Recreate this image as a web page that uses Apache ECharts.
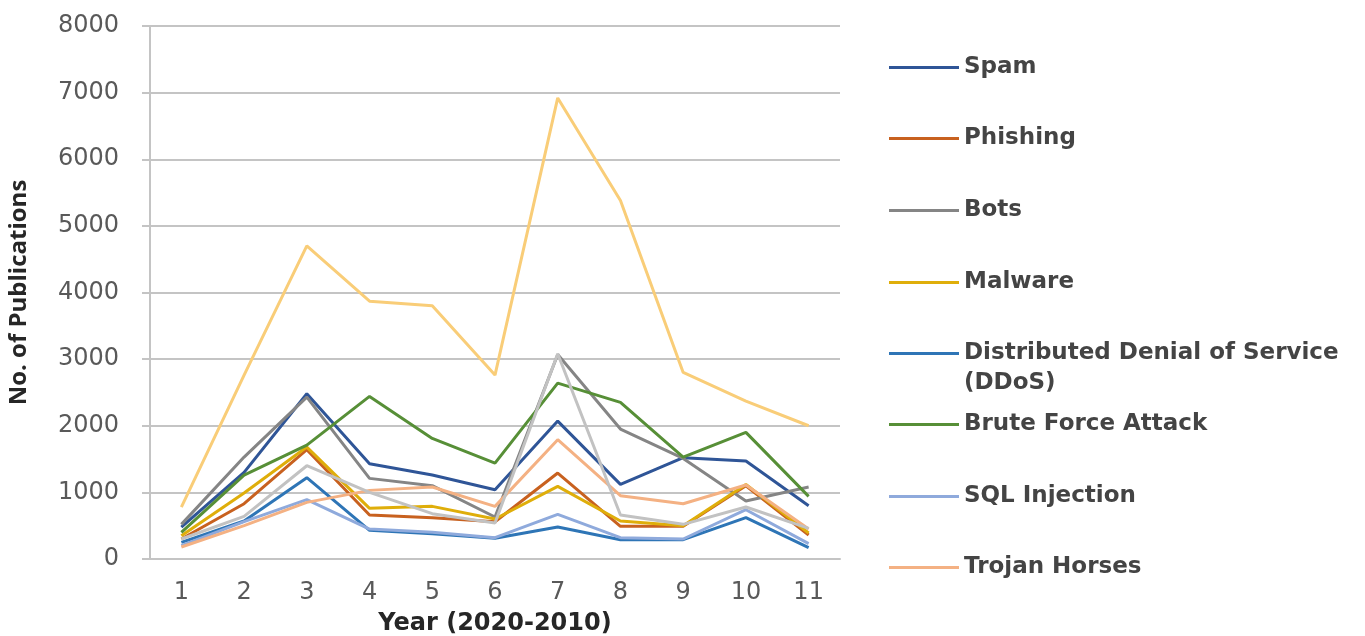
<!DOCTYPE html>
<html>
<head>
<meta charset="utf-8">
<script src="https://cdn.jsdelivr.net/npm/echarts@6/dist/echarts.min.js"></script>
<style>
  html, body { margin: 0; padding: 0; background: #ffffff; }
  #chart { width: 1365px; height: 636px; }
</style>
</head>
<body>
<div id="chart"></div>
<script>
// Publications per attack type, year index 1..11
const years = ['1', '2', '3', '4', '5', '6', '7', '8', '9', '10', '11'];
const yTicks = [0, 1000, 2000, 3000, 4000, 5000, 6000, 7000, 8000];

const spam     = [480, 1300, 2480, 1430, 1260, 1040, 2070, 1120, 1520, 1470, 800];
const phishing = [300, 830, 1640, 660, 620, 560, 1290, 490, 490, 1100, 360];
const bots     = [520, 1530, 2430, 1210, 1100, 630, 3070, 1950, 1510, 870, 1080];
const malware  = [350, 990, 1680, 760, 790, 600, 1090, 570, 500, 1120, 390];
const ddos     = [250, 570, 1220, 430, 380, 310, 480, 290, 290, 620, 170];
const brute    = [400, 1260, 1710, 2440, 1810, 1440, 2640, 2350, 1530, 1900, 940];
const sqlInj   = [200, 560, 890, 450, 400, 320, 670, 320, 300, 740, 230];
const trojan   = [180, 500, 850, 1030, 1080, 790, 1790, 950, 830, 1110, 450];
const series9  = [300, 640, 1400, 1000, 680, 540, 3080, 660, 520, 780, 460];
const series10 = [780, 2760, 4700, 3870, 3800, 2760, 6920, 5380, 2800, 2370, 2000];

const seriesDefs = [
  { name: 'Spam', data: spam, color: '#2F5597' },
  { name: 'Phishing', data: phishing, color: '#C8611F' },
  { name: 'Bots', data: bots, color: '#858585' },
  { name: 'Malware', data: malware, color: '#DFAE0A' },
  { name: 'Distributed Denial of Service (DDoS)', data: ddos, color: '#2E75B6' },
  { name: 'Brute Force Attack', data: brute, color: '#578F37' },
  { name: 'SQL Injection', data: sqlInj, color: '#8FAADC' },
  { name: 'Trojan Horses', data: trojan, color: '#F4B183' },
  { name: 'Series 9', data: series9, color: '#C2C2C2' },
  { name: 'Series 10', data: series10, color: '#F9CD78' }
];

// Legend rows (vertical centre of each swatch)
const legendRows = [
  { name: 'Spam', y: 69 },
  { name: 'Phishing', y: 140 },
  { name: 'Bots', y: 212 },
  { name: 'Malware', y: 284 },
  { name: 'Distributed Denial of Service (DDoS)', y: 355, label: ' \nDistributed Denial of Service\n(DDoS)' },
  { name: 'Brute Force Attack', y: 426 },
  { name: 'SQL Injection', y: 498 },
  { name: 'Trojan Horses', y: 569 }
];

const LH = 30;
const legendFont = { fontFamily: 'DejaVu Sans', fontSize: 23, fontWeight: 'bold', color: '#444444', lineHeight: LH };

const legends = legendRows.map(r => {
  const lines = r.label ? r.label.split('\n').length : 1;
  return {
    show: true,
    orient: 'vertical',
    left: 889,
    top: r.y - 1.5 - (LH * lines) / 2,
    padding: 0,
    icon: 'rect',
    itemWidth: 70,
    itemHeight: 3,
    selectedMode: false,
    data: [r.name],
    formatter: () => r.label || r.name,
    textStyle: legendFont
  };
});

const chart = echarts.init(document.getElementById('chart'), null, { renderer: 'canvas' });

chart.setOption({
  backgroundColor: '#ffffff',
  animation: false,
  legend: legends,
  grid: { left: 150, right: 525, top: 26, bottom: 77, containLabel: false, outerBoundsMode: 'none' },
  xAxis: {
    type: 'category',
    data: years,
    boundaryGap: true,
    name: 'Year (2020-2010)',
    nameLocation: 'middle',
    nameGap: 53,
    nameTextStyle: { fontFamily: 'DejaVu Sans', fontSize: 24, fontWeight: 'bold', color: '#262626' },
    axisLine: { show: true, lineStyle: { color: '#C4C4C4', width: 2 } },
    axisTick: { show: false },
    axisLabel: { margin: 22, fontFamily: 'DejaVu Sans', fontSize: 24, color: '#595959' }
  },
  yAxis: {
    type: 'value',
    min: yTicks[0],
    max: yTicks[yTicks.length - 1],
    interval: 1000,
    name: 'No. of Publications',
    nameLocation: 'middle',
    nameGap: 119,
    nameRotate: 90,
    nameTextStyle: { fontFamily: 'Open Sans', fontSize: 24, fontWeight: 'bold', color: '#262626' },
    axisLine: { show: true, lineStyle: { color: '#C4C4C4', width: 2 } },
    axisTick: { show: true, length: 8, lineStyle: { color: '#C4C4C4', width: 2 } },
    axisLabel: { margin: 31, fontFamily: 'DejaVu Sans', fontSize: 24, color: '#595959', formatter: v => String(v) },
    splitLine: { show: true, lineStyle: { color: '#C4C4C4', width: 2 } }
  },
  series: seriesDefs.map(s => ({
    name: s.name,
    type: 'line',
    data: s.data,
    symbol: 'none',
    showSymbol: false,
    lineStyle: { color: s.color, width: 3 },
    itemStyle: { color: s.color }
  }))
});
</script>
</body>
</html>
